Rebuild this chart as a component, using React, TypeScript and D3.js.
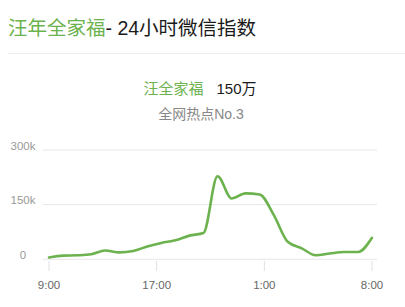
import React from "react";
import * as d3 from "d3";

// Hourly WeChat index, 9:00 through 8:00 the next morning (thousands)
const hours = [
  "9:00", "10:00", "11:00", "12:00", "13:00", "14:00", "15:00", "16:00",
  "17:00", "18:00", "19:00", "20:00", "21:00", "22:00", "23:00", "0:00",
  "1:00", "2:00", "3:00", "4:00", "5:00", "6:00", "7:00", "8:00",
];
const values = [
  5, 10, 11, 14, 24, 19, 23, 35,
  45, 52, 65, 72, 228, 167, 181, 178,
  122, 48, 30, 11, 16, 20, 20, 59,
];
const yTicks = [0, 150, 300];
const xTickLabels = ["9:00", "17:00", "1:00", "8:00"];

const keyword = "汪年全家福";
const titleRest = "- 24小时微信指数";
const term = "汪全家福";
const total = "150万";
const rank = "全网热点No.3";

const W = 405;
const H = 307;
const GREEN = "#6cb24e";
const FONT = '"Liberation Sans", Helvetica, Arial, "Noto Sans CJK SC", sans-serif';

export default function App() {
  const x = d3.scaleLinear().domain([0, hours.length - 1]).range([49, 372]);
  const xLabel = d3.scalePoint<string>().domain(xTickLabels).range([49, 372]);
  const y = d3.scaleLinear().domain([0, 300]).range([259.3, 150]);

  const line = d3
    .line<number>()
    .x((_, i) => x(i))
    .y((d) => y(d))
    .curve(d3.curveMonotoneX);

  return (
    <svg
      width={W}
      height={H}
      style={{ position: "absolute", left: 0, top: 0, background: "#fff" }}
      fontFamily={FONT}
    >
      <rect width={W} height={H} fill="#fff" />
      <text x={8} y={34.5} fontSize={19.5}>
        <tspan fill={GREEN}>{keyword}</tspan>
        <tspan fill="#1a1a1a">{titleRest}</tspan>
      </text>
      <line x1={8} x2={W} y1={53.5} y2={53.5} stroke="#eeeeee" strokeWidth={1} />

      <text x={200} y={94} fontSize={15} textAnchor="middle">
        <tspan fill={GREEN}>{term}</tspan>
        <tspan fill="#1a1a1a" dx={13}>{total}</tspan>
      </text>
      <text x={201} y={118.5} fontSize={14} textAnchor="middle" fill="#888">
        {rank}
      </text>

      {yTicks.map((t) => (
        <g key={t}>
          <line x1={43} x2={377} y1={y(t)} y2={y(t)} stroke="#e6e6e6" strokeWidth={1} />
          <text x={23} y={y(t) - 0.5} fontSize={11.5} fill="#999" textAnchor="middle">
            {t === 0 ? "0" : `${t}k`}
          </text>
        </g>
      ))}

      {xTickLabels.map((l) => (
        <g key={l}>
          <line
            x1={xLabel(l)}
            x2={xLabel(l)}
            y1={261}
            y2={271}
            stroke="#e0e0e0"
            strokeWidth={1}
          />
          <text x={xLabel(l)} y={288.5} fontSize={11.5} fill="#666" textAnchor="middle">
            {l}
          </text>
        </g>
      ))}

      <path
        d={line(values) ?? ""}
        fill="none"
        stroke={GREEN}
        strokeWidth={2.6}
        strokeLinejoin="round"
        strokeLinecap="round"
      />
    </svg>
  );
}
